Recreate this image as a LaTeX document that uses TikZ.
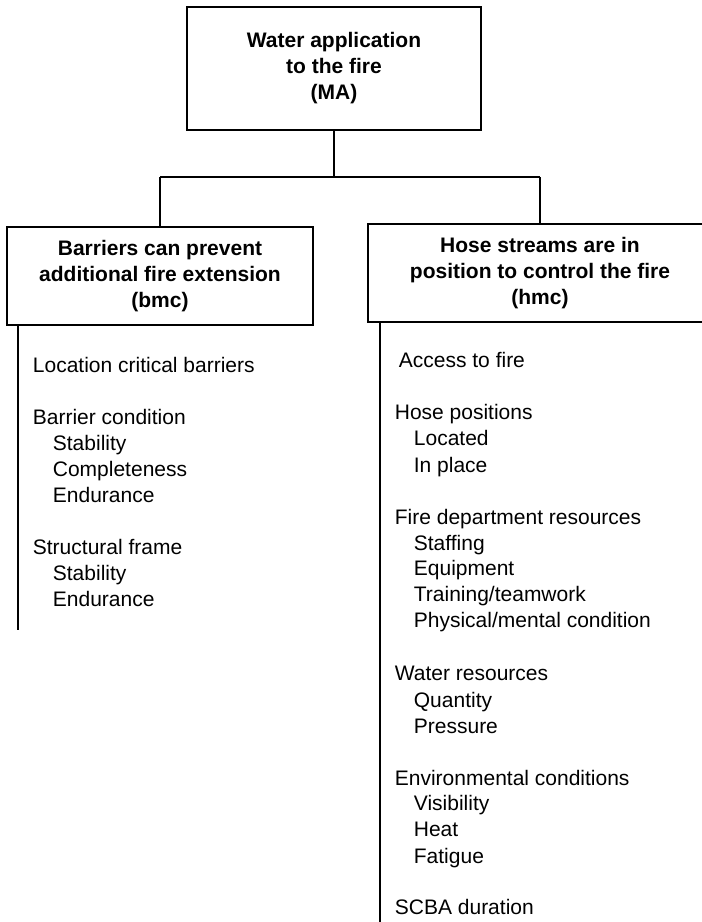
\documentclass[tikz,border=0pt]{standalone}
\usepackage{fontspec}
\setmainfont{Liberation Sans}
\begin{document}
\begin{tikzpicture}[x=1pt,y=-1pt,
  line width=1.8pt,
  headbox/.style={draw, rectangle, align=center, inner sep=0pt,
    font=\fontsize{21}{26}\selectfont\bfseries},
  item/.style={anchor=base west, inner sep=0pt, font=\fontsize{21}{26}\selectfont},
  link/.style={draw, line width=1.8pt}]
\useasboundingbox (0,0) rectangle (702,922);
\clip (0,0) rectangle (702,922);

% boxes
\node[headbox, minimum width=294pt, minimum height=123pt] (ma) at (334,68.5)
  {Water application\\to the fire\\(MA)};
\node[headbox, minimum width=306pt, minimum height=98pt] (bmc) at (160,276)
  {Barriers can prevent\\additional fire extension\\(bmc)};
\node[headbox, minimum width=344pt, minimum height=98pt] (hmc) at (540,273)
  {Hose streams are in\\position to control the fire\\(hmc)};

% tree connectors
\coordinate (split) at (334,177);
\coordinate (jl) at (160,177);
\coordinate (jr) at (540,177);
\draw[link] (ma.south) -- (split);
\draw[link] (jl) -- (jr);
\draw[link] (jl) -- (bmc.north);
\draw[link] (jr) -- (hmc.north);

% list rails
\coordinate (lrail) at (18,630);
\coordinate (rrail) at (380,930);
\draw[link] (bmc.south west -| lrail) -- (lrail);
\draw[link] (hmc.south west -| rrail) -- (rrail);

% left list
\node[item] (l1) at (32,372) {Location critical barriers};
\node[item] (l2) at (32,424) {Barrier condition};
\node[item] (l3) at (52,450) {Stability};
\node[item] (l4) at (52,476) {Completeness};
\node[item] (l5) at (52,502) {Endurance};
\node[item] (l6) at (32,554) {Structural frame};
\node[item] (l7) at (52,580) {Stability};
\node[item] (l8) at (52,606) {Endurance};

% right list
\node[item] (r1)  at (398,367) {Access to fire};
\node[item] (r2)  at (394,419) {Hose positions};
\node[item] (r3)  at (413,445) {Located};
\node[item] (r4)  at (413,472) {In place};
\node[item] (r5)  at (394,524) {Fire department resources};
\node[item] (r6)  at (413,550) {Staffing};
\node[item] (r7)  at (413,575) {Equipment};
\node[item] (r8)  at (413,601) {Training/teamwork};
\node[item] (r9)  at (413,627) {Physical/mental condition};
\node[item] (r10) at (394,680) {Water resources};
\node[item] (r11) at (413,707) {Quantity};
\node[item] (r12) at (413,733) {Pressure};
\node[item] (r13) at (394,785) {Environmental conditions};
\node[item] (r14) at (413,810) {Visibility};
\node[item] (r15) at (413,836) {Heat};
\node[item] (r16) at (413,863) {Fatigue};
\node[item] (r17) at (394,914) {SCBA duration};
\end{tikzpicture}
\end{document}
